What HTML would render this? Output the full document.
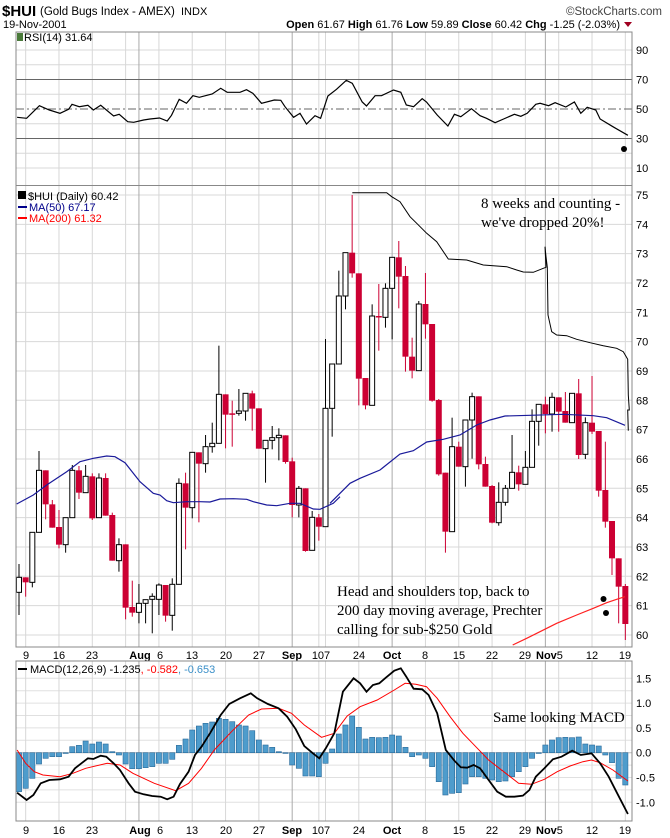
<!DOCTYPE html>
<html><head><meta charset="utf-8"><style>
body{margin:0;background:#fff;width:670px;height:838px;overflow:hidden}
svg{display:block}
text{font-family:"Liberation Sans",sans-serif}
</style></head><body>
<svg id="s" width="670" height="838" xmlns="http://www.w3.org/2000/svg"></svg>
<script>
const S=document.getElementById('s');let h='';
const L=16,R=632;
function cx(i){return 19+6.663*i;}
// grid verticals
const mondays=[1,6,11,16,21,26,31,36,45,46,51,61,66,71,76,81,86,91];
const months=[18,41,56,79];
function vgrid(y1,y2){
 mondays.forEach(i=>{h+=`<line x1="${cx(i)}" y1="${y1}" x2="${cx(i)}" y2="${y2}" stroke="#d8d8d8"/>`});
 months.forEach(i=>{h+=`<line x1="${cx(i)}" y1="${y1}" x2="${cx(i)}" y2="${y2}" stroke="#aaa"/>`});
}
// header
h+=`<text x="2" y="16" font-size="15" font-weight="bold">$HUI</text><text x="40" y="15" font-size="11.5">(Gold Bugs Index - AMEX)</text><text x="181" y="15" font-size="11">INDX</text>`;
h+=`<text x="662" y="15" font-size="11.5" text-anchor="end" fill="#444">©StockCharts.com</text>`;
h+=`<text x="3" y="28" font-size="11">19-Nov-2001</text>`;
h+=`<text x="620" y="28" font-size="11" text-anchor="end"><tspan font-weight="bold">Open</tspan> 61.67 <tspan font-weight="bold">High</tspan> 61.76 <tspan font-weight="bold">Low</tspan> 59.89 <tspan font-weight="bold">Close</tspan> 60.42 <tspan font-weight="bold">Chg</tspan> -1.25 (-2.03%)</text>`;
h+=`<polygon points="624,22 632,22 628,27" fill="#a00020"/>`;
// RSI panel 32-185
function ry(v){return 109-(v-50)*1.475;}
[10,20,40,60,80,90].forEach(v=>{h+=`<line x1="${L}" y1="${ry(v)}" x2="${R}" y2="${ry(v)}" stroke="#d8d8d8"/>`});
vgrid(32,185);
h+=`<line x1="${L}" y1="${ry(70)}" x2="${R}" y2="${ry(70)}" stroke="#666"/><line x1="${L}" y1="${ry(30)}" x2="${R}" y2="${ry(30)}" stroke="#666"/>`;
h+=`<line x1="${L}" y1="${ry(50)}" x2="${R}" y2="${ry(50)}" stroke="#666" stroke-dasharray="8,3,2,3"/>`;
[90,70,50,30,10].forEach(v=>{h+=`<text x="636" y="${ry(v)+4}" font-size="11">${v}</text>`});
const rsi=[[40,352],[62,355],[92,317],[115,330],[140,340],[160,328],[168,313],[185,320],[205,316],[218,330],[235,316],[265,348],[278,343],[298,365],[312,367],[335,360],[350,357],[372,354],[390,363],[400,346],[418,298],[435,310],[450,287],[465,292],[495,282],[515,265],[530,277],[560,277],[575,269],[590,280],[610,310],[640,300],[655,301],[665,320],[685,352],[700,340],[715,372],[735,347],[748,355],[765,288],[785,268],[808,241],[822,250],[845,306],[855,318],[875,287],[890,287],[918,270],[935,277],[948,315],[965,320],[985,296],[995,306],[1020,345],[1045,378],[1060,343],[1075,350],[1100,326],[1120,347],[1135,355],[1155,368],[1175,357],[1200,343],[1215,349],[1230,340],[1250,313],[1260,310],[1280,317],[1295,308],[1320,321],[1340,306],[1355,340],[1370,322],[1390,330],[1400,357],[1430,380],[1465,406]];
h+=`<polyline fill="none" stroke="#000" stroke-width="1.2" points="${rsi.map(p=>(p[0]/2.333).toFixed(1)+','+(p[1]/3).toFixed(1)).join(' ')}"/>`;
h+=`<circle cx="624" cy="149" r="3" fill="#000"/>`;
h+=`<rect x="17" y="33" width="6" height="8" fill="#4a7a3a"/><text x="24" y="41" font-size="11">RSI(14) 31.64</text>`;
// main panel 186-647
function py(p){return 195+(75-p)*29.33;}
for(let p=60;p<=75;p++)h+=`<line x1="${L}" y1="${py(p)}" x2="${R}" y2="${py(p)}" stroke="#d8d8d8"/>`;
vgrid(186,647);
for(let p=60;p<=75;p++)h+=`<text x="636" y="${py(p)+4}" font-size="11">${p}</text>`;
// candles: [zx, type(1 white,0 red), bt,bb,wt,wb] zoom coords
const c3=[[57,1,1192,1237,1152,1305],[77,0,1192,1207,1192,1250],[99,1,1057,1207,1057,1222],[117,1,871,1057,813,1057],[138,0,871,973,871,1018],[158,0,973,1043,960,1043],[177,0,1041,1094,990,1105],[198,1,1013,1094,1013,1118],[217,1,871,1013,855,1013],[237,0,871,938,858,957],[257,1,889,938,855,938],[278,0,889,1015,880,1020],[297,1,894,1013,880,1013],[318,0,894,1007,880,1007],[338,0,1005,1142,998,1142],[357,1,1094,1142,1075,1175],[378,0,1093,1283,1093,1318],[398,0,1281,1298,1202,1310],[417,1,1270,1297,1212,1330],[437,1,1259,1270,1259,1330],[457,1,1249,1258,1240,1360],[477,1,1215,1258,1210,1305],[497,0,1215,1307,1215,1325],[518,1,1213,1306,1195,1352],[537,1,910,1213,895,1213],[558,0,910,983,878,1108],[577,1,817,983,817,1015],[598,0,817,851,817,1027],[617,1,800,851,765,878],[636,1,790,800,728,818],[657,1,643,790,497,790],[678,0,643,704,643,805],[697,0,700,704,662,800],[717,1,693,700,627,707],[737,1,640,693,640,722],[757,0,640,686,632,752],[777,0,685,806,685,806],[797,1,781,806,781,908],[817,1,773,781,738,808],[837,1,766,773,745,841],[857,0,766,846,766,851],[877,0,844,975,833,1012],[898,1,925,975,918,1012],[917,0,925,1113,925,1115],[937,1,1012,1111,993,1111],[957,0,1012,1040,1002,1082],[977,1,685,1040,477,1040],[997,1,552,685,552,770]];
const c4=[[27,1,348,552,272,552],[47,1,218,348,218,388],[66,0,218,280,45,293],[87,0,280,596,280,676],[106,0,594,676,594,688],[126,1,408,676,373,676],[146,0,408,412,312,512],[166,1,325,412,310,443],[186,1,232,325,232,478],[207,0,232,290,183,385],[227,0,288,530,258,575],[247,0,530,572,473,595],[267,1,372,572,363,572],[287,0,372,433,279,476],[306,0,432,662,432,665],[327,0,660,883,657,887],[346,0,878,1055,878,1118],[366,1,800,1055,713,1055],[387,0,800,860,785,860],[405,1,720,860,720,920],[426,1,650,720,638,836],[446,0,649,853,649,868],[465,0,852,920,830,920],[486,0,918,1028,915,1030],[506,1,967,1028,907,1037],[525,1,925,967,915,977],[545,1,877,925,765,925],[565,0,877,913,857,932],[585,1,862,913,813,913],[605,1,724,862,688,862],[625,1,673,724,673,797],[645,0,673,702,650,760],[665,1,652,702,638,755],[685,0,652,695,652,755],[705,0,693,728,636,728],[725,1,640,728,640,728],[745,0,640,825,597,837],[766,1,728,823,712,837],[786,0,728,755,588,762],[805,0,753,932,753,950],[825,0,930,1025,785,1043],[845,0,1023,1135,1023,1185],[865,0,1135,1220,1135,1330],[885,0,1218,1332,1212,1380]];
const all=c3.map(c=>[c[0]/3,...c.slice(1)]).concat(c4.map(c=>[330+c[0]/3,...c.slice(1)]));
let cs='';
all.forEach((c,i)=>{const x=cx(i),Y=v=>180+v/3;const col=c[1]?'#000':'#cc0033';
 cs+=`<line x1="${x}" y1="${Y(c[4])}" x2="${x}" y2="${Y(c[5])}" stroke="${col}"/>`;
 let bt=Y(c[2]),bb=Y(c[3]);if(bb-bt<1.5)bb=bt+1.5;
 if(c[1])cs+=`<rect x="${x-2.5}" y="${bt}" width="5" height="${bb-bt}" fill="#fff" stroke="#000"/>`;
 else cs+=`<rect x="${x-3}" y="${bt}" width="6" height="${bb-bt}" fill="#cc0033"/>`;});
function zl(pts,x0,col,w){return `<polyline fill="none" stroke="${col}" stroke-width="${w}" points="${pts.map(p=>(x0+p[0]/3).toFixed(1)+','+(180+p[1]/3).toFixed(1)).join(' ')}"/>`;}
h+=cs;
const ma3=[[50,972],[100,945],[140,915],[200,875],[240,845],[280,835],[320,828],[345,830],[375,848],[400,880],[420,905],[460,940],[480,945],[500,962],[520,968],[560,965],[600,965],[630,966],[660,957],[700,956],[740,958],[760,965],[800,975],[830,977],[870,970],[900,970],[940,987],[960,988],[1000,970],[1020,950]];
const ma4=[[0,970],[30,940],[60,910],[90,895],[150,870],[210,822],[250,812],[290,786],[340,778],[390,765],[440,735],[480,720],[525,708],[600,706],[700,703],[790,707],[830,713],[885,736]];
h+=zl(ma3,0,'#1a1a9a',1.2)+zl(ma4,330,'#1a1a9a',1.2);
h+=zl([[548,1395],[590,1375],[630,1355],[680,1330],[740,1305],[790,1285],[830,1268],[860,1258],[885,1250]],330,'#ff2020',1.2);
h+=zl([[67,38],[170,38],[185,50],[210,65],[240,110],[260,130],[290,160],[320,185],[355,237],[410,240],[460,255],[530,260],[560,270],[580,276],[610,277],[640,265],[648,262],[645,200],[648,230],[652,262],[654,405],[665,455],[680,465],[710,467],[740,478],[780,488],[820,497],[860,505],[880,515],[893,538],[895,645],[898,690],[893,690],[895,752]],330,'#000',1);
h+=`<circle cx="603.5" cy="599" r="3" fill="#000"/><circle cx="606" cy="613" r="3" fill="#000"/>`;
h+=`<rect x="18" y="191" width="8" height="8" fill="#000"/><text x="28" y="200" font-size="11">$HUI (Daily) 60.42</text>`;
h+=`<line x1="18" y1="207" x2="27" y2="207" stroke="#00008b" stroke-width="2"/><text x="29" y="211" font-size="11" fill="#00008b">MA(50) 67.17</text>`;
h+=`<line x1="18" y1="218" x2="27" y2="218" stroke="#f00" stroke-width="2"/><text x="29" y="222" font-size="11" fill="#f00">MA(200) 61.32</text>`;
h+=`<text x="481" y="208" font-family="Liberation Serif" font-size="15" style="font-family:'Liberation Serif',serif">8 weeks and counting -</text>`;
h+=`<text x="481" y="227" font-size="15" style="font-family:'Liberation Serif',serif">we've dropped 20%!</text>`;
['Head and shoulders top, back to','200 day moving average, Prechter','calling for sub-$250 Gold'].forEach((t,i)=>{h+=`<text x="337" y="${596+i*19}" font-size="15" style="font-family:'Liberation Serif',serif">${t}</text>`});
// date labels
function dates(y){const lb=[[26,'9'],[59,'16'],[92,'23'],[160,'6'],[192,'13'],[226,'20'],[259,'27'],[321,'107'],[359,'24'],[425,'8'],[459,'15'],[492,'22'],[525,'29'],[592,'12'],[625,'19']];
 lb.forEach(l=>{h+=`<text x="${l[0]}" y="${y}" font-size="11" text-anchor="middle">${l[1]}</text>`});
 [[140,'Aug'],[292,'Sep'],[392,'Oct']].forEach(l=>{h+=`<text x="${l[0]}" y="${y}" font-size="11" font-weight="bold" text-anchor="middle">${l[1]}</text>`});
 h+=`<text x="536" y="${y}" font-size="11"><tspan font-weight="bold">Nov</tspan>5</text>`;}
dates(659);
// MACD panel 661-821
function my(m){return 752.7-m*49.6;}
[-1,-0.5,0.5,1,1.5,-0.75,-0.25,0.25,0.75,1.25].forEach(v=>{h+=`<line x1="${L}" y1="${my(v)}" x2="${R}" y2="${my(v)}" stroke="#e0e0e0"/>`});
vgrid(661,821);
h+=`<line x1="${L}" y1="${my(0)}" x2="${R}" y2="${my(0)}" stroke="#bbb"/>`;
[[1.5,'1.5'],[1,'1.0'],[0.5,'0.5'],[0,'0.0'],[-0.5,'-0.5'],[-1,'-1.0']].forEach(v=>{h+=`<text x="636" y="${my(v[0])+4}" font-size="11">${v[1]}</text>`});
const hb=[455,445,415,372,355,350,350,340,320,316,303,312,306,312,335,345,372,386,386,383,380,370,370,358,316,297,270,258,250,246,235,238,245,255,258,272,300,315,322,335,338,375,385,408,408,410,370,327,282,255,228,262,297,292,293,292,285,288,322,350,345,355,380,425,465,460,458,432,410,410,415,420,425,423,410,395,380,355,340,315,300,293,292,293,291,312,315,318,345,368,415,435];
hb.forEach((v,i)=>{const y=640+v/3,z=my(0),x=cx(i);h+=`<rect x="${x-2.6}" y="${Math.min(y,z)}" width="5.2" height="${Math.max(0.8,Math.abs(y-z))}" fill="#4e9ccc" stroke="#2a6a9a" stroke-width="0.6"/>`});
function ml(pts,col,w){return `<polyline fill="none" stroke="${col}" stroke-width="${w}" points="${pts.map(p=>(p[0]/2.333).toFixed(1)+','+(640+p[1]/3).toFixed(1)).join(' ')}"/>`;}
h+=ml([[40,330],[60,370],[80,395],[100,405],[140,410],[170,400],[200,385],[250,370],[280,375],[310,400],[360,430],[410,452],[440,430],[470,385],[500,330],[540,275],[580,225],[610,207],[650,205],[680,220],[710,255],[750,292],[780,280],[810,228],[840,200],[880,180],[920,150],[945,130],[970,133],[995,140],[1020,175],[1050,230],[1080,280],[1110,320],[1140,360],[1180,400],[1210,430],[1240,433],[1270,418],[1300,395],[1330,378],[1360,365],[1380,360],[1400,368],[1430,390],[1465,423]],'#f00',1);
h+=ml([[40,458],[62,480],[78,465],[95,430],[115,420],[140,418],[160,410],[175,385],[190,370],[205,355],[218,357],[235,347],[248,350],[265,370],[280,390],[300,430],[315,455],[335,463],[355,468],[375,470],[390,478],[405,470],[420,432],[440,395],[455,345],[470,320],[490,280],[515,225],[535,192],[560,175],[585,160],[600,175],[625,192],[650,205],[670,230],[690,268],[710,318],[730,340],[745,355],[760,325],[780,280],[800,155],[825,115],[840,130],[855,155],[870,135],[885,130],[900,113],[920,92],[935,85],[948,110],[965,146],[985,148],[1000,165],[1020,220],[1040,330],[1060,362],[1075,382],[1090,383],[1105,375],[1120,385],[1140,420],[1160,455],[1180,470],[1200,470],[1220,467],[1235,450],[1250,410],[1270,385],[1290,358],[1310,350],[1335,332],[1355,345],[1380,340],[1400,370],[1420,410],[1440,460],[1465,522]],'#000',1.8);
h+=`<line x1="18" y1="669" x2="27" y2="669" stroke="#000" stroke-width="2"/><text x="30" y="673" font-size="11">MACD(12,26,9) -1.235<tspan fill="#f00">, -0.582</tspan><tspan fill="#3a8fc8">, -0.653</tspan></text>`;
h+=`<text x="493" y="722" font-size="15" style="font-family:'Liberation Serif',serif">Same looking MACD</text>`;
dates(834);
// borders
h+=`<rect x="${L}" y="32" width="${R-L}" height="${647-32}" fill="none" stroke="#888"/>`;
h+=`<line x1="${L}" y1="185.5" x2="${R}" y2="185.5" stroke="#888"/>`;
h+=`<rect x="${L}" y="661" width="${R-L}" height="160" fill="none" stroke="#888"/>`;
S.innerHTML=h;
</script>
</body></html>
